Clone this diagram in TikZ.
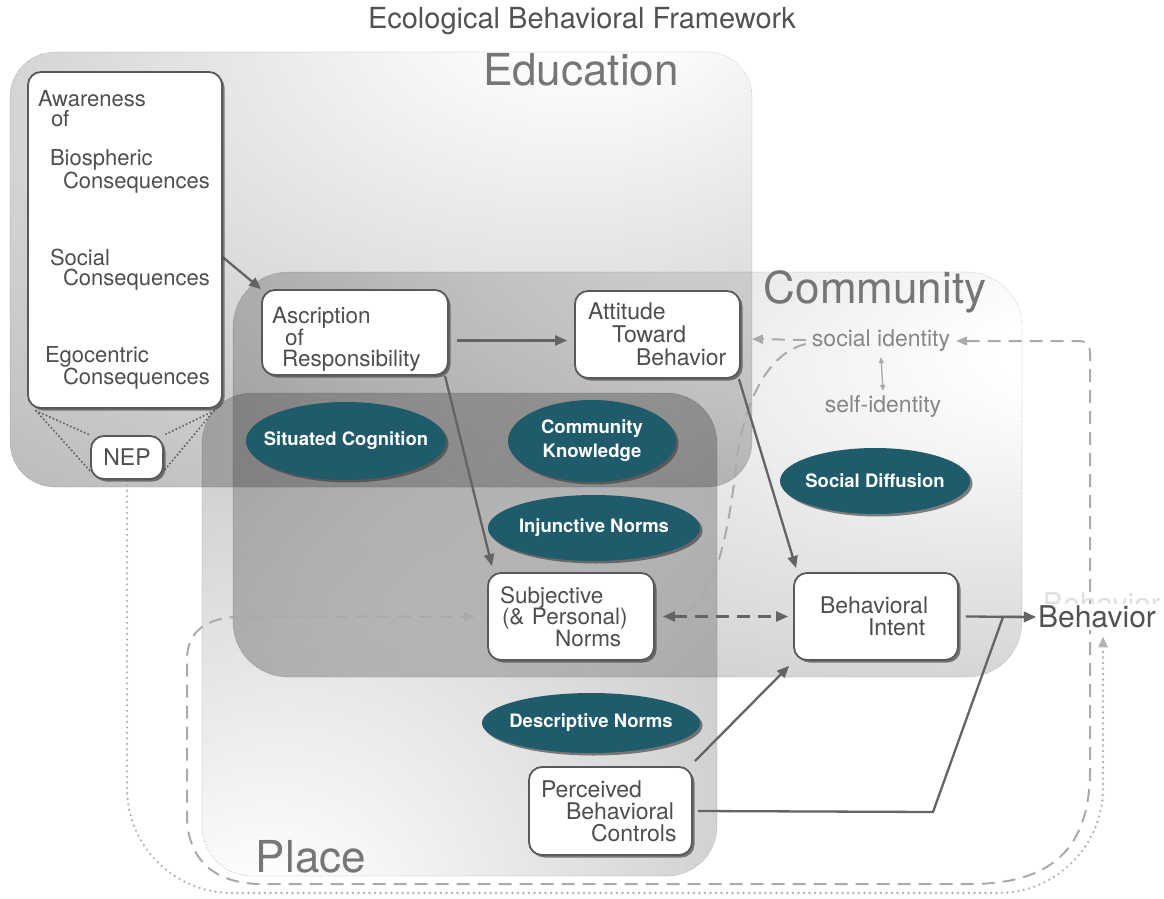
\documentclass[tikz,border=0pt]{standalone}
\usepackage{fontspec}
\setmainfont{TeX Gyre Heros}
\usetikzlibrary{arrows.meta,shadows,shapes.geometric,calc}
\definecolor{tealnode}{RGB}{31,91,106}
\definecolor{boxtext}{RGB}{78,78,78}
\definecolor{regiongray}{RGB}{180,180,180}
\definecolor{labelgray}{RGB}{118,118,118}
\definecolor{linegray}{RGB}{100,100,100}
\definecolor{lightline}{RGB}{170,170,170}
\pgfdeclareradialshading{eduShade}{\pgfpoint{15bp}{32bp}}{color(0bp)=(white); color(5bp)=(white); color(57bp)=(regiongray); color(100bp)=(regiongray)}
\pgfdeclareradialshading{comShade}{\pgfpoint{30bp}{16bp}}{color(0bp)=(white); color(5bp)=(white); color(60bp)=(regiongray); color(100bp)=(regiongray)}
\pgfdeclareradialshading{plaShade}{\pgfpoint{-21bp}{-34bp}}{color(0bp)=(white); color(5bp)=(white); color(60bp)=(regiongray); color(100bp)=(regiongray)}
\pgfdeclarelayer{regions}
\pgfdeclarelayer{links}
\pgfsetlayers{regions,links,main}
\setlength\lineskiplimit{-30pt}
\newcommand\zw[1]{\makebox[0pt]{#1}}
\begin{document}
\begin{tikzpicture}[x=1pt,y=-1pt,
  region/.style={draw=black!25, densely dotted, line width=0.6pt, blend mode=multiply},
  regionlabel/.style={font=\fontsize{44}{44}\selectfont, text=labelgray, inner sep=0pt},
  box/.style={draw=black!65, line width=1.8pt, fill=white, rounded corners=13pt, align=left,
    text=boxtext, inner ysep=0pt,
    drop shadow={shadow xshift=2.5pt, shadow yshift=-2.5pt, fill=black!75, opacity=.65}},
  oval/.style={ellipse, fill=tealnode, text=white, align=center, inner sep=0pt,
    font=\bfseries\fontsize{18.5}{24}\selectfont,
    drop shadow={shadow xshift=2.5pt, shadow yshift=-2.5pt, fill=black!75, opacity=.65}},
  graytext/.style={text=black!47, font=\fontsize{23}{23}\selectfont, inner sep=2pt},
  arr/.style={draw=linegray, line width=2.3pt, -{Triangle[length=12pt,width=10pt]}},
  ldash/.style={draw=lightline, line width=2pt, dash pattern=on 13pt off 8pt},
  ddash/.style={draw=linegray, line width=2.3pt, dash pattern=on 13pt off 8pt},
  ndot/.style={draw=black!30, line width=2.6pt, dash pattern=on 0pt off 5.5pt, line cap=round},
  mag/.style={draw=black!62, line width=2.3pt, dash pattern=on 0pt off 3.8pt, line cap=round},
  ltip/.style={-{Triangle[length=11pt,width=9pt]}}
]
\useasboundingbox (0,0) rectangle (1164,899);

% regions
\begin{pgfonlayer}{regions}
\shade[region, shading=eduShade, rounded corners=45pt] (10,52) rectangle (752,487);
\shade[region, shading=comShade, rounded corners=55pt] (233,272) rectangle (1022,677);
\shade[region, shading=plaShade, rounded corners=50pt] (202,393) rectangle (717,876);
\end{pgfonlayer}

\node[font=\fontsize{29}{29}\selectfont, text=black!68] (title) at (582,21) {Ecological Behavioral Framework};
\node[regionlabel] (edulabel) at (581,70) {Education};
\node[regionlabel] (comlabel) at (875,292) {Community};
\node[regionlabel] (plalabel) at (311,857) {Place};

% boxes
\node[box, font=\fontsize{22}{20}\selectfont, inner xsep=10pt, text width=174pt, minimum height=336pt] (aw) at (125,240)
 {Awareness\\
  \hspace*{13pt}of\\[19pt]
  \hspace*{12pt}Biospheric\\
  \hspace*{25pt}Consequences\\[55pt]
  \hspace*{12pt}Social\\
  \hspace*{25pt}Consequences\\[55pt]
  \hspace*{7pt}Egocentric\\
  \hspace*{25pt}Consequences};
\node[box, font=\fontsize{23}{23}\selectfont, align=center, minimum width=72pt, minimum height=43pt, inner xsep=4pt] (nep) at (127,457.5) {NEP};
\node[box, font=\fontsize{22.5}{20.5}\selectfont, inner xsep=10pt, text width=166pt, minimum height=85pt] (asc) at (355,332.5)
 {\rule{0pt}{30pt}Ascription\\ \hspace*{13pt}of\\ \hspace*{10pt}Responsibility};
\node[box, font=\fontsize{23}{23}\selectfont, inner xsep=13pt, text width=139pt, minimum height=87pt] (att) at (657.5,334.5)
 {Attitude\\ \hspace*{24pt}Toward\\ \hspace*{48pt}Behavior};
\node[box, font=\fontsize{22.5}{21.5}\selectfont, inner xsep=12pt, text width=142pt, minimum height=87pt] (subj) at (571,616.5)
 {Subjective\\ \hspace*{2pt}(\& Personal)\\ \hspace*{55pt}Norms};
\node[box, font=\fontsize{23}{22}\selectfont, inner xsep=26pt, text width=112pt, minimum height=87pt] (bi) at (876,616.5)
 {Behavioral\\ \hspace*{48pt}Intent};
\node[box, font=\fontsize{23}{22}\selectfont, inner xsep=12pt, text width=139pt, minimum height=88pt] (pbc) at (610.5,811)
 {Perceived\\ \hspace*{25pt}Behavioral\\ \hspace*{50pt}Controls};

% ellipses
\node[oval, minimum width=200pt, minimum height=78pt] (sc) at (346,441) {\zw{Situated Cognition}};
\node[oval, minimum width=168pt, minimum height=82pt] (ck) at (592,441) {\zw{Community}\\\zw{Knowledge}};
\node[oval, minimum width=212pt, minimum height=66pt] (inj) at (594,528) {\zw{Injunctive Norms}};
\node[oval, minimum width=190pt, minimum height=66pt] (sd) at (875,481) {\zw{Social Diffusion}};
\node[oval, minimum width=218pt, minimum height=60pt] (dn) at (591,723) {\zw{Descriptive Norms}};

% identity texts
\node[graytext] (soc) at (881,341) {social identity};
\node[graytext] (self) at (883,407) {self-identity};

% behavior
\node[font=\fontsize{30}{30}\selectfont, text=black!12, inner sep=2pt] (behghost) at (1102,604) {Behavior};
\node[font=\fontsize{30}{30}\selectfont, text=black!68, fill=white, inner sep=2pt] (beh) at (1097,617) {Behavior};

\coordinate (pk1) at (933,812);
\coordinate (pk2) at (1003,617);
\coordinate (nb) at (1103,893);
\coordinate (attR) at ($(att.east |- soc.west)+(11,-2)$);

\begin{pgfonlayer}{links}
% NEP magnifier
\draw[mag] ([shift={(9pt,-2pt)}]aw.south west) -- (nep.north west);
\draw[mag] ([shift={(9pt,-2pt)}]aw.south west) -- ([yshift=9pt]nep.south west);
\draw[mag] ([shift={(-9pt,-2pt)}]aw.south east) -- (nep.north east);
\draw[mag] ([shift={(-9pt,-2pt)}]aw.south east) -- ([yshift=9pt]nep.south east);
% NEP dotted to behavior
\draw[ndot, -{Triangle[length=11pt,width=9pt]}, rounded corners=105pt]
  (nep.south) -- (nep.south |- nb) -- (nb) -- ([yshift=-6pt]nb |- beh.south);
% big light loop
\draw[ldash, {Triangle[length=11pt,width=9pt]}-{Triangle[length=11pt,width=9pt]}]
  ([xshift=4pt]soc.east) -- (1078,341) .. controls (1087,341) and (1090,345) .. (1090,354)
  -- (1090,770) .. controls (1090,850) and (1050,884) .. (970,884)
  -- (262,884) .. controls (215,884) and (187,860) .. (187,815)
  -- (187,660) .. controls (187,632) and (205,616.5) .. (245,616.5)
  -- ([xshift=-12pt]subj.west);
% social identity -> attitude, subjective
\draw[ldash, ltip] ([xshift=-4pt,yshift=1pt]soc.west) -- (attR);
\draw[ldash, ltip] ([xshift=-4pt,yshift=-3pt]soc.west) .. controls (772,352) and (748,392) .. (738,450)
  .. controls (728,545) and (712,612) .. ([xshift=8pt]subj.east);
\draw[draw=lightline, line width=1.3pt, {Triangle[length=6pt,width=5pt]}-{Triangle[length=6pt,width=5pt]}]
  ([yshift=-3pt]soc.south) -- ([yshift=3pt]self.north);
% solid arrows
\draw[arr] (aw.-10) -- (asc.north west);
\draw[arr] ([shift={(8pt,-8pt)}]asc.east) -- ([shift={(-7pt,-6pt)}]att.west);
\draw[arr] ([xshift=90pt]asc.south) -- ([shift={(-79pt,6pt)}]subj.north);
\draw[arr] ([xshift=-2pt]att.south east) -- ([shift={(3pt,4pt)}]bi.north west);
\draw[arr] ([shift={(2pt,5pt)}]pbc.north east) -- ([shift={(-4pt,-5pt)}]bi.south west);
\draw[arr] ([xshift=7pt]bi.east) -- (beh.west);
\draw[arr] ([xshift=5pt]pbc.east) -- (pk1) -- (pk2) -- (beh.west);
% dark dashed subjective <-> intent
\draw[ddash, {Triangle[length=12pt,width=10pt]}-{Triangle[length=12pt,width=10pt]}] ([xshift=8pt]subj.east) -- ([xshift=-5pt]bi.west);
\end{pgfonlayer}
\end{tikzpicture}
\end{document}
